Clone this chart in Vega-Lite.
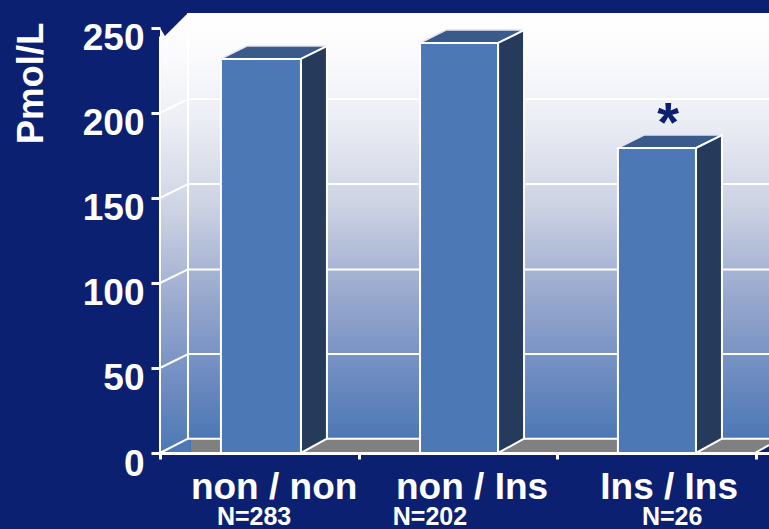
{
"$schema":"https://vega.github.io/schema/vega-lite/v6.json",
"width":609,"height":453,"autosize":"none",
"padding":{"left":160,"top":0,"right":0,"bottom":76},
"background":"#0c2072",
"config":{"view":{"stroke":null},"text":{"font":"Liberation Sans"}},
"datasets":{
"wall":[{"x":14.1,"x2":306.8,"y":8.8,"y2":258.8}],
"leftwall":[{"x":0,"y":250,"y2":0},{"x":2.5,"y":245.3,"y2":1.5},{"x":14.1,"y":258.8,"y2":8.8}],
"floor":[{"x":15.6,"y":8.4,"y2":0},{"x":299.7,"y":8.4,"y2":0},{"x":306.8,"y":8.4,"y2":4.7}],
"floorblue":[{"x":0,"y":0,"y2":0},{"x":14.1,"y":8.4,"y2":0},{"x":15.6,"y":8.4,"y2":0}],
"grid":[{"x":14.1,"x2":306.8,"y":8.4,"y2":8.4},{"x":14.1,"x2":306.8,"y":58.2,"y2":58.2},{"x":14.1,"x2":306.8,"y":108,"y2":108},{"x":14.1,"x2":306.8,"y":158.2,"y2":158.2},{"x":14.1,"x2":306.8,"y":208.2,"y2":208.2},
{"x":0,"x2":14.1,"y":0,"y2":8.4},{"x":0,"x2":14.1,"y":50,"y2":58.2},{"x":0,"x2":14.1,"y":100,"y2":108},{"x":0,"x2":14.1,"y":150,"y2":158.2},{"x":0,"x2":14.1,"y":200,"y2":208.2},
{"x":14.1,"x2":14.1,"y":8.4,"y2":258.8},{"x":0,"x2":0,"y":0,"y2":245},{"x":299.7,"x2":306.8,"y":0,"y2":4.7}],
"tops":[
{"bar":"non / non","x":30.7,"y":231.8,"y2":231.8},{"bar":"non / non","x":43.8,"y":239.4,"y2":231.8},{"bar":"non / non","x":71,"y":239.4,"y2":231.8},{"bar":"non / non","x":84.1,"y":239.4,"y2":239.4},
{"bar":"non / Ins","x":131,"y":241.2,"y2":241.2},{"bar":"non / Ins","x":144.1,"y":248.8,"y2":241.2},{"bar":"non / Ins","x":170.3,"y":248.8,"y2":241.2},{"bar":"non / Ins","x":183.4,"y":248.8,"y2":248.8},
{"bar":"Ins / Ins","x":230.7,"y":179.4,"y2":179.4},{"bar":"Ins / Ins","x":243.8,"y":187,"y2":179.4},{"bar":"Ins / Ins","x":270,"y":187,"y2":179.4},{"bar":"Ins / Ins","x":283.1,"y":187,"y2":187}],
"sides":[
{"bar":"non / non","x":71,"y":231.8,"y2":0},{"bar":"non / non","x":84.1,"y":239.4,"y2":8.4},
{"bar":"non / Ins","x":170.3,"y":241.2,"y2":0},{"bar":"non / Ins","x":183.4,"y":248.8,"y2":8.4},
{"bar":"Ins / Ins","x":270,"y":179.4,"y2":0},{"bar":"Ins / Ins","x":283.1,"y":187,"y2":8.4}],
"bars":[{"bar":"non / non","x":30.7,"x2":71,"y":231.8,"y2":0},{"bar":"non / Ins","x":131,"x2":170.3,"y":241.2,"y2":0},{"bar":"Ins / Ins","x":230.7,"x2":270,"y":179.4,"y2":0}],
"labels":[{"t":"non / non","x":57.5,"y":-27},{"t":"non / Ins","x":157.2,"y":-27},{"t":"Ins / Ins","x":256.5,"y":-27}],
"ns":[{"t":"N=283","x":47.4,"y":-42.4},{"t":"N=202","x":136,"y":-42.4},{"t":"N=26","x":258,"y":-42.4}],
"star":[{"t":"*","x":256,"y":183.5}]
},
"encoding":{
"x":{"field":"x","type":"quantitative","scale":{"domain":[0,306.8],"nice":false,"zero":false},
"axis":{"title":null,"values":[0,100,200,300],"labels":false,"grid":false,"domainColor":"white","domainWidth":3,"tickColor":"white","tickWidth":3,"tickSize":6,"zindex":1}},
"y":{"field":"y","type":"quantitative","scale":{"domain":[0,266.47],"nice":false,"zero":false},
"axis":{"title":"Pmol/L","values":[0,50,100,150,200,250],"grid":false,"domain":false,"tickColor":"white","tickWidth":3,"tickSize":9,"labelColor":"white","labelFont":"Liberation Sans","labelFontWeight":"bold","labelFontSize":37,"labelPadding":7,"labelOffset":11,"titleColor":"white","titleFont":"Liberation Sans","titleFontWeight":"bold","titleFontSize":36.5,"titleX":-110,"titleY":83,"titleAlign":"center","zindex":1}}
},
"layer":[
{"data":{"name":"wall"},"mark":{"type":"rect","fill":{"gradient":"linear","x1":0,"y1":0,"x2":0,"y2":1,"stops":[{"offset":0,"color":"#ffffff"},{"offset":0.1,"color":"#fbfbfd"},{"offset":0.25,"color":"#eceef5"},{"offset":0.45,"color":"#cdd3e4"},{"offset":0.65,"color":"#9cabcf"},{"offset":0.85,"color":"#6e8cc1"},{"offset":1,"color":"#4c78b5"}]}},"encoding":{"x2":{"field":"x2"},"y2":{"field":"y2"}}},
{"data":{"name":"leftwall"},"mark":{"type":"area","fill":{"gradient":"linear","x1":0,"y1":0,"x2":0,"y2":1,"stops":[{"offset":0,"color":"#ffffff"},{"offset":0.1,"color":"#fbfbfd"},{"offset":0.25,"color":"#eceef5"},{"offset":0.45,"color":"#cdd3e4"},{"offset":0.65,"color":"#9cabcf"},{"offset":0.85,"color":"#6e8cc1"},{"offset":1,"color":"#4c78b5"}]}},"encoding":{"y2":{"field":"y2"}}},
{"data":{"name":"floor"},"mark":{"type":"area","fill":"#808080"},"encoding":{"y2":{"field":"y2"}}},
{"data":{"name":"floorblue"},"mark":{"type":"area","fill":"#4c78b5"},"encoding":{"y2":{"field":"y2"}}},
{"data":{"name":"grid"},"mark":{"type":"rule","color":"white","strokeWidth":2},"encoding":{"x2":{"field":"x2"},"y2":{"field":"y2"}}},
{"data":{"name":"tops"},"mark":{"type":"area","fill":"#395a8b","stroke":"#dfe4ee","strokeWidth":1.5},"encoding":{"detail":{"field":"bar"},"y2":{"field":"y2"}}},
{"data":{"name":"sides"},"mark":{"type":"area","fill":"#263b5b","stroke":"white","strokeWidth":2},"encoding":{"detail":{"field":"bar"},"y2":{"field":"y2"}}},
{"data":{"name":"bars"},"mark":{"type":"rect","fill":"#4c78b5","stroke":"white","strokeWidth":2},"encoding":{"x2":{"field":"x2"},"y2":{"field":"y2"}}},
{"data":{"name":"labels"},"mark":{"type":"text","color":"white","fontWeight":"bold","fontSize":37,"font":"Liberation Sans","baseline":"alphabetic"},"encoding":{"text":{"field":"t"}}},
{"data":{"name":"ns"},"mark":{"type":"text","color":"white","fontWeight":"bold","fontSize":25,"font":"Liberation Sans","baseline":"alphabetic"},"encoding":{"text":{"field":"t"}}},
{"data":{"name":"star"},"mark":{"type":"text","color":"#0c2072","fontWeight":"bold","fontSize":56,"font":"Liberation Sans","baseline":"alphabetic"},"encoding":{"text":{"field":"t"}}}
]
}
